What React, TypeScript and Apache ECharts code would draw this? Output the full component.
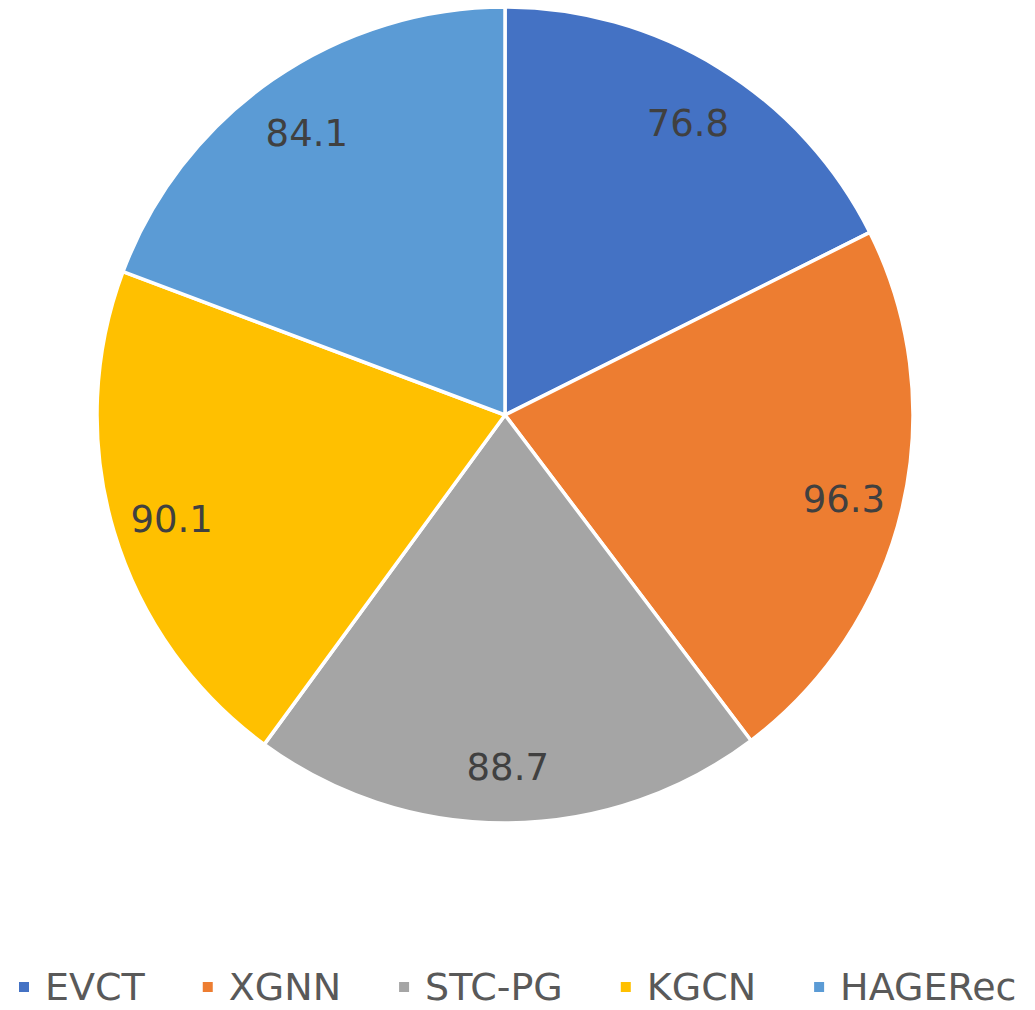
import React, { useEffect, useRef } from "react";
import * as echarts from "echarts";

const categories = ["EVCT", "XGNN", "STC-PG", "KGCN", "HAGERec"];
const values = [76.8, 96.3, 88.7, 90.1, 84.1];
const colors = ["#4472C4", "#ED7D31", "#A5A5A5", "#FFC000", "#5B9BD5"];

export default function App() {
  const ref = useRef<HTMLDivElement>(null);
  useEffect(() => {
    const chart = echarts.init(ref.current!, null, { renderer: "svg" });
    const data = categories.map((name, i) => ({ name, value: values[i] }));
    chart.setOption({
      animation: false,
      color: colors,
      legend: {
        data: categories,
        left: 12,
        top: 963,
        icon: "rect",
        itemWidth: 12,
        itemHeight: 12,
        itemGap: 56,
        textStyle: {
          fontFamily: "DejaVu Sans",
          fontSize: 38,
          color: "#595959",
          padding: [0, 0, 0, 10],
        },
      },
      series: [
        {
          type: "pie",
          center: [505, 415],
          radius: [0, 408],
          startAngle: 90,
          clockwise: true,
          data,
          label: { show: false },
          labelLine: { show: false },
          itemStyle: { borderColor: "#ffffff", borderWidth: 3.5 },
          silent: true,
        },
        {
          type: "pie",
          center: [505, 415],
          radius: [282, 408],
          startAngle: 90,
          clockwise: true,
          data,
          itemStyle: { color: "rgba(0,0,0,0)" },
          label: {
            show: true,
            position: "inside",
            formatter: (p: any) => p.value.toFixed(1),
            fontFamily: "DejaVu Sans",
            fontSize: 37,
            color: "#404040",
            offset: [0, 5],
          },
          labelLine: { show: false },
          silent: true,
          legendHoverLink: false,
        },
      ],
    });
    return () => chart.dispose();
  }, []);
  return (
    <div
      ref={ref}
      style={{ position: "fixed", left: 0, top: 0, width: 1035, height: 1010, background: "#fff" }}
    />
  );
}
